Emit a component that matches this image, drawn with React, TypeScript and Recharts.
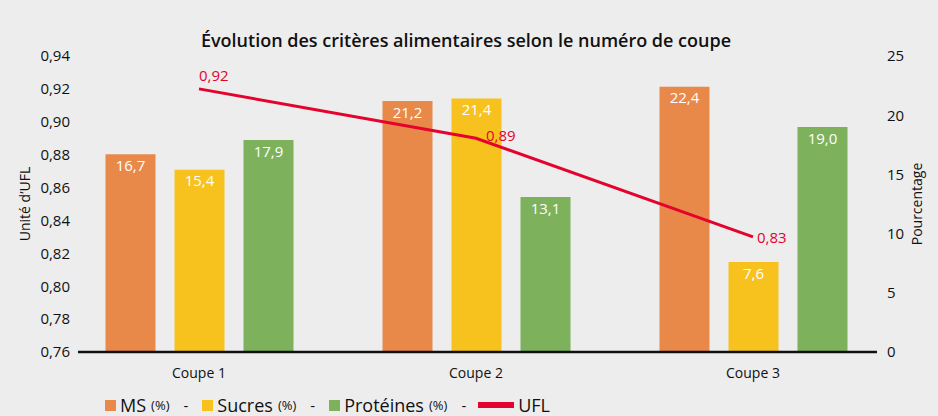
import { ComposedChart, Bar, Line, XAxis, YAxis, LabelList } from "recharts";

const categories = ["Coupe 1", "Coupe 2", "Coupe 3"];
const msValues = [16.7, 21.2, 22.4];
const sucresValues = [15.4, 21.4, 7.6];
const proteinesValues = [17.9, 13.1, 19.0];
const uflValues = [0.92, 0.89, 0.83];
const uflTicks = [0.76, 0.78, 0.8, 0.82, 0.84, 0.86, 0.88, 0.9, 0.92, 0.94];
const pctTicks = [0, 5, 10, 15, 20, 25];

const FONT = "'Open Sans', sans-serif";
const C_MS = "#e8894a";
const C_SUCRES = "#f7c21e";
const C_PROT = "#7eb15c";
const C_UFL = "#e4032e";

const data = categories.map((name, i) => ({
  name,
  ms: msValues[i],
  sucres: sucresValues[i],
  proteines: proteinesValues[i],
  ufl: uflValues[i],
}));

const comma = (v: number, d: number) => v.toFixed(d).replace(".", ",");

function UflLabel(props: any) {
  const { x, y, value, index } = props;
  // first point: label above, the others on the right
  const dx = index === 0 ? 0 : index === 1 ? 10 : 4;
  const dy = index === 0 ? -14 : index === 1 ? -3 : 0;
  return (
    <text
      x={x + dx}
      y={y + dy}
      dominantBaseline="central"
      textAnchor="start"
      fill={C_UFL}
      fontSize={15}
      fontFamily={FONT}
    >
      {comma(value, 2)}
    </text>
  );
}

const legendItems = [
  { label: "MS", color: C_MS, type: "square" },
  { label: "Sucres", color: C_SUCRES, type: "square" },
  { label: "Protéines", color: C_PROT, type: "square" },
  { label: "UFL", color: C_UFL, type: "line" },
];

export default function App() {
  return (
    <div style={{ position: "absolute", left: 0, top: 0, width: 938, height: 416, background: "#ededed", fontFamily: FONT, overflow: "hidden" }}>
      <div style={{ position: "absolute", top: 28, left: 0, width: 932, textAlign: "center", fontSize: 18, lineHeight: "24px", fontWeight: 600, color: "#111" }}>
        Évolution des critères alimentaires selon le numéro de coupe
      </div>
      <ComposedChart
        width={938}
        height={416}
        data={data}
        margin={{ top: 56, right: 0, left: 0, bottom: 34 }}
        barGap={19}
        style={{ position: "absolute", left: 0, top: 0 }}
      >
        <XAxis
          dataKey="name"
          height={30}
          padding={{ left: -17.5, right: -14.5 }}
          tickLine={false}
          axisLine={{ stroke: "#111", strokeWidth: 2.5 }}
          tickMargin={10}
          tick={{ fontSize: 14, fill: "#111", fontFamily: FONT }}
        />
        <YAxis
          yAxisId="left"
          width={78}
          domain={[0.76, 0.94]}
          ticks={uflTicks}
          interval={0}
          tickFormatter={(v) => comma(v, 2)}
          axisLine={false}
          tickLine={false}
          tick={{ fontSize: 15, fill: "#111", fontFamily: FONT }}
          label={{ value: "Unité d’UFL", angle: -90, position: "insideLeft", offset: 25, style: { textAnchor: "middle", fontSize: 14, fill: "#111", fontFamily: FONT } }}
        />
        <YAxis
          yAxisId="right"
          orientation="right"
          width={61}
          domain={[0, 25]}
          ticks={pctTicks}
          interval={0}
          axisLine={false}
          tickLine={false}
          tickMargin={4}
          tick={{ fontSize: 15, fill: "#111", fontFamily: FONT }}
          label={{ value: "Pourcentage", angle: -90, position: "insideRight", offset: 21, style: { textAnchor: "middle", fontSize: 14, fill: "#111", fontFamily: FONT } }}
        />
        <Bar yAxisId="right" dataKey="ms" fill={C_MS} barSize={50} isAnimationActive={false}>
          <LabelList dataKey="ms" position="insideTop" offset={6} fill="#fff" fontSize={15} fontFamily={FONT} formatter={(v: any) => comma(Number(v), 1)} />
        </Bar>
        <Bar yAxisId="right" dataKey="sucres" fill={C_SUCRES} barSize={50} isAnimationActive={false}>
          <LabelList dataKey="sucres" position="insideTop" offset={6} fill="#fff" fontSize={15} fontFamily={FONT} formatter={(v: any) => comma(Number(v), 1)} />
        </Bar>
        <Bar yAxisId="right" dataKey="proteines" fill={C_PROT} barSize={50} isAnimationActive={false}>
          <LabelList dataKey="proteines" position="insideTop" offset={6} fill="#fff" fontSize={15} fontFamily={FONT} formatter={(v: any) => comma(Number(v), 1)} />
        </Bar>
        <Line
          yAxisId="left"
          type="linear"
          dataKey="ufl"
          stroke={C_UFL}
          strokeWidth={3}
          dot={false}
          activeDot={false}
          isAnimationActive={false}
        >
          <LabelList dataKey="ufl" content={UflLabel} />
        </Line>
      </ComposedChart>
      <div style={{ position: "absolute", top: 395, left: 105, height: 20, display: "flex", alignItems: "center", color: "#111", whiteSpace: "nowrap", lineHeight: "20px" }}>
        {legendItems.map((it, i) => (
          <span key={it.label} style={{ display: "flex", alignItems: "center" }}>
            {i > 0 && <span style={{ fontSize: 15, margin: i === 3 ? "0 12px 0 14px" : "0 14px 0 14px" }}>-</span>}
            {it.type === "square" ? (
              <span style={{ width: 11, height: 11, background: it.color, marginRight: 4 }} />
            ) : (
              <span style={{ width: 36, height: 6, background: it.color, marginRight: 4 }} />
            )}
            <span style={{ fontSize: 18 }}>{it.label}</span>
            {it.type === "square" && <span style={{ fontSize: 13, marginLeft: 5 }}>(%)</span>}
          </span>
        ))}
      </div>
    </div>
  );
}
